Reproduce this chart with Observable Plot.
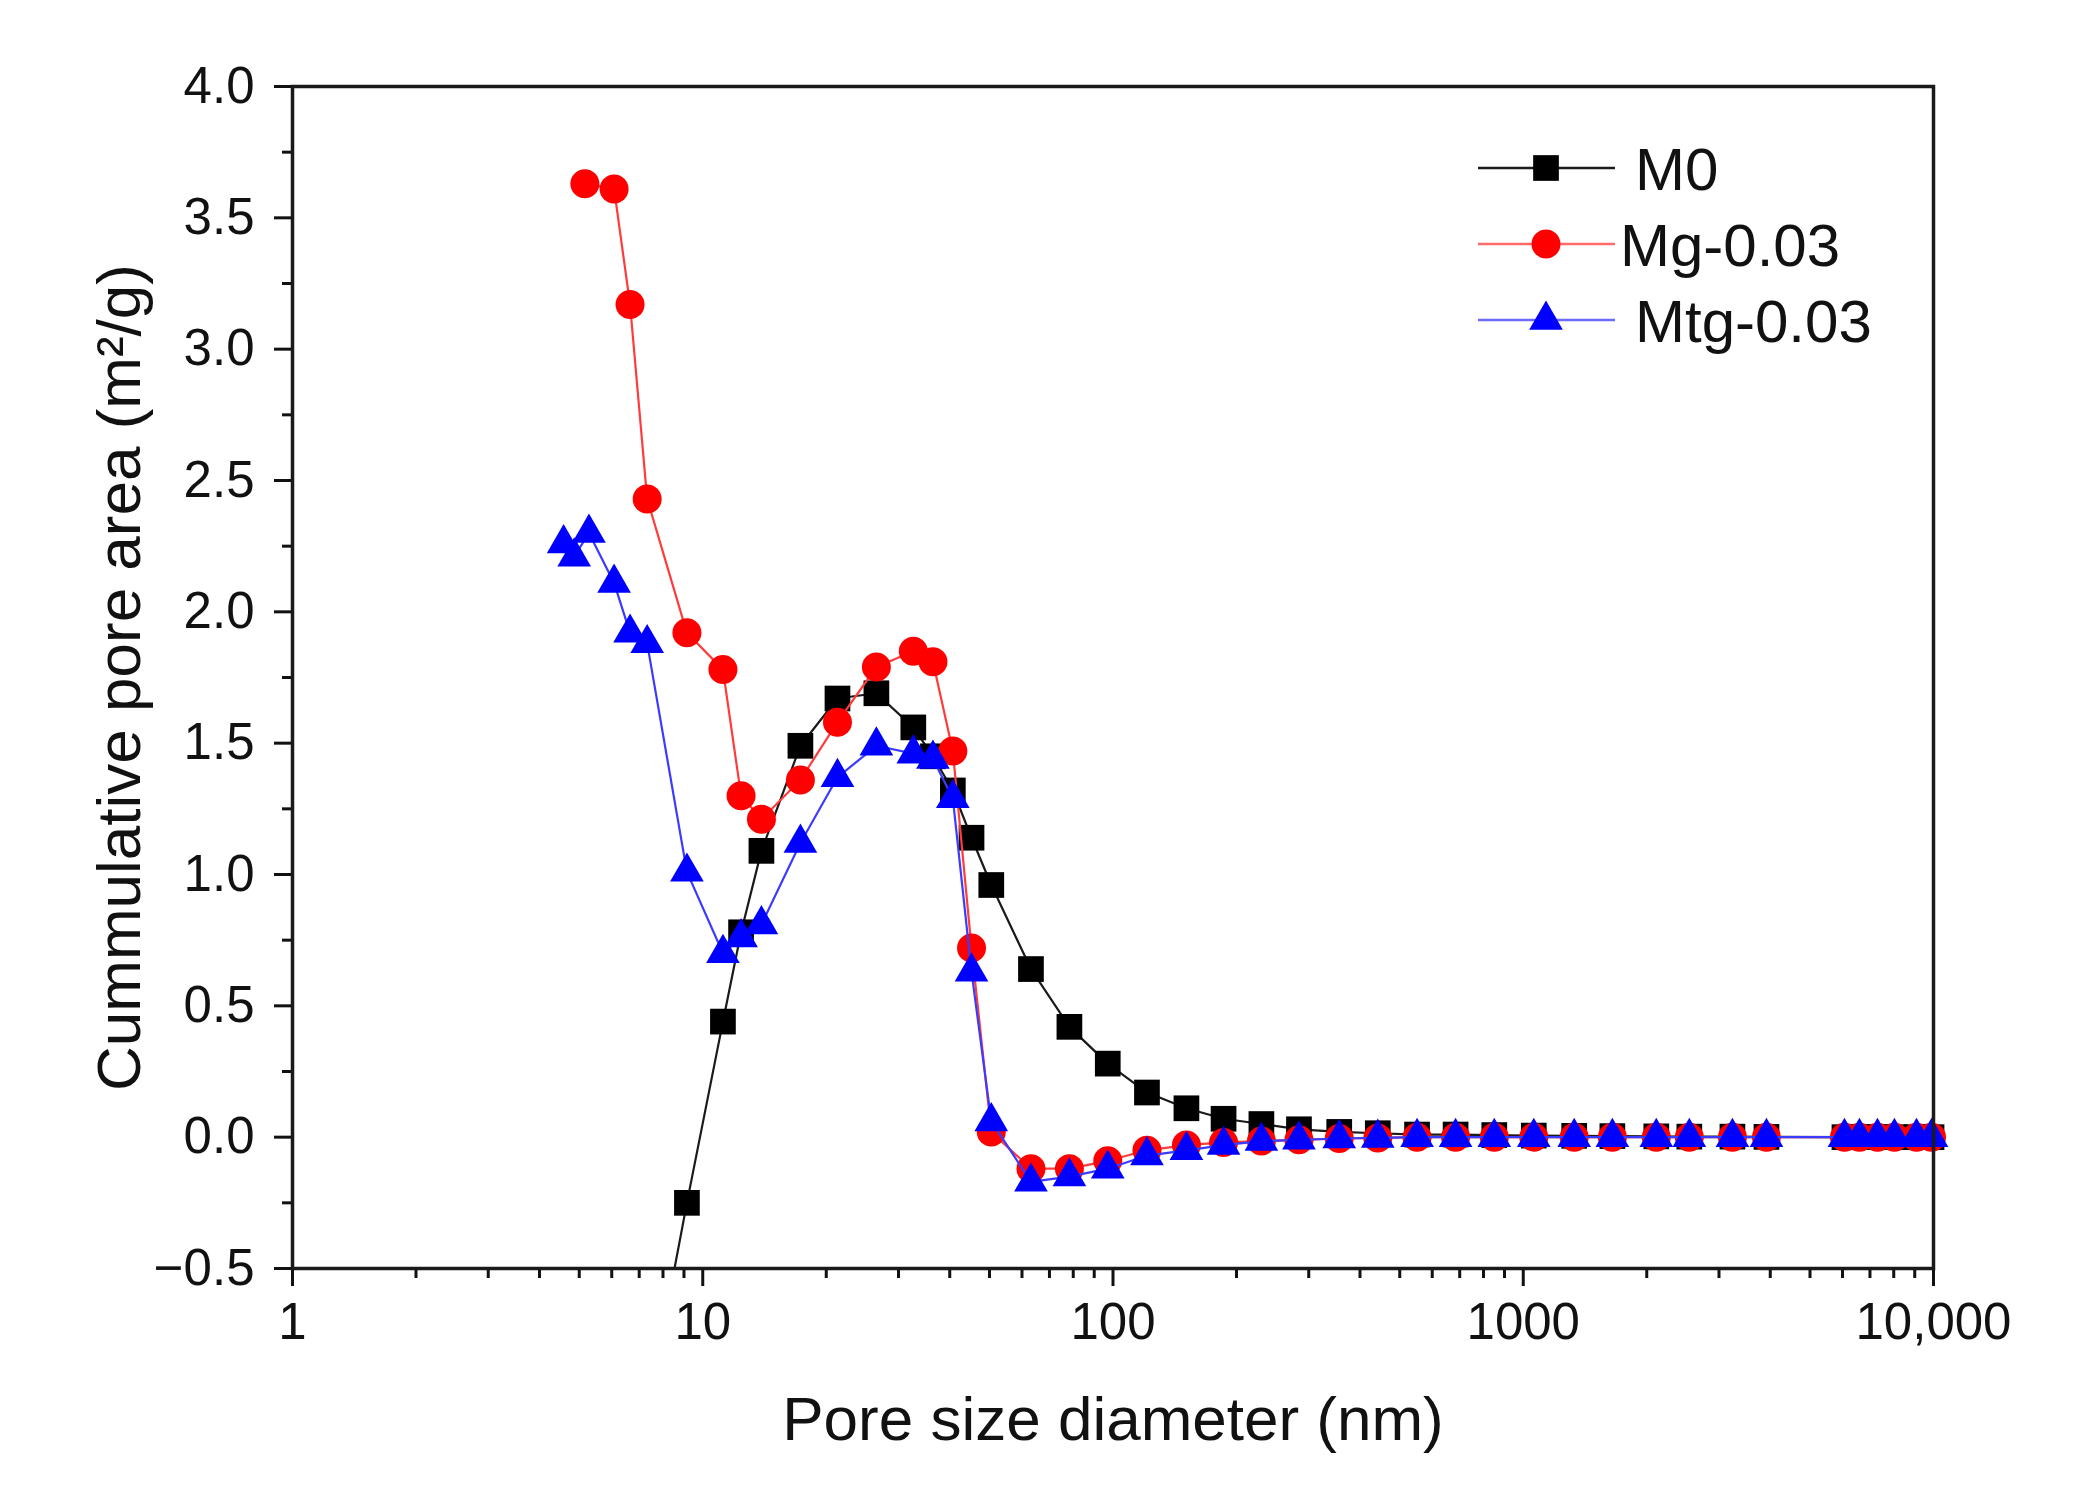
<!DOCTYPE html>
<html>
<head>
<meta charset="utf-8">
<script src="https://cdn.jsdelivr.net/npm/d3@7"></script>
<script src="https://cdn.jsdelivr.net/npm/@observablehq/plot@0.6"></script>
<style>
  html, body { margin: 0; padding: 0; background: #fff; }
  #wrap { position: relative; width: 2075px; height: 1498px; }
  #legend { position: absolute; left: 0; top: 0; pointer-events: none; }
</style>
</head>
<body>
<div id="wrap"></div>
<script>
// ---- data ----
const seriesNames = ["M0", "Mg-0.03", "Mtg-0.03"];

const xTail = [9.15, 11.2, 12.4, 13.9, 17.3, 21.3, 26.5, 32.6, 36.4, 40.7,
  45.2, 50.5, 63.1, 78.3, 97.1, 121, 151, 186, 230, 284,
  356, 442, 551, 684, 850, 1061, 1331, 1649, 2110, 2540,
  3235, 3916, 6067, 6600, 7300, 8030, 9090, 9890];

const xM0 = [7.32, ...xTail];
const yM0 = [-1.05, -0.25, 0.44, 0.78, 1.09, 1.49, 1.67, 1.69, 1.56, 1.45, 1.32,
  1.14, 0.96, 0.64, 0.42, 0.28, 0.17, 0.11, 0.07, 0.05, 0.03,
  0.02, 0.015, 0.01, 0.01, 0.008, 0.006, 0.005, 0.004, 0.003, 0.002,
  0.002, 0.001, 0, 0, 0, 0, 0, 0];

const xMg = [5.16, 6.08, 6.65, 7.32, ...xTail];
const yMg = [3.63, 3.61, 3.17, 2.43,
  1.92, 1.78, 1.30, 1.21, 1.36, 1.58, 1.79, 1.85, 1.81, 1.47,
  0.72, 0.02, -0.12, -0.12, -0.09, -0.05, -0.03, -0.02, -0.015, -0.01,
  -0.005, -0.003, 0, 0, 0, 0, 0, 0,
  0, 0, 0, 0, 0, 0, 0, 0, 0, 0];

const xMtg = [4.58, 4.86, 5.28, 6.08, 6.65, 7.32, ...xTail];
const yMtg = [2.26, 2.21, 2.30, 2.11, 1.92, 1.88,
  1.01, 0.70, 0.76, 0.81, 1.12, 1.37, 1.49, 1.46, 1.44, 1.29,
  0.63, 0.06, -0.17, -0.15, -0.12, -0.07, -0.05, -0.03, -0.015, -0.01,
  -0.005, -0.003, 0, 0, 0, 0, 0, 0,
  0, 0, 0, 0, 0, 0, 0, 0, 0, 0];

const xMajorTicks = [1, 10, 100, 1000, 10000];
const xMajorLabels = ["1", "10", "100", "1000", "10,000"];
const xMinorTicks = [2,3,4,5,6,7,8,9,20,30,40,50,60,70,80,90,200,300,400,500,600,700,800,900,2000,3000,4000,5000,6000,7000,8000,9000];
const yMajorTicks = [-0.5, 0, 0.5, 1.0, 1.5, 2.0, 2.5, 3.0, 3.5, 4.0];
const yMinorTicks = [-0.25, 0.25, 0.75, 1.25, 1.75, 2.25, 2.75, 3.25, 3.75];

const xTitle = "Pore size diameter (nm)";
const yTitle = "Cummulative pore area (m²/g)";

// ---- build tables ----
const toRows = (xs, ys, name) => xs.map((x, i) => ({x, y: ys[i], series: name}));
const rowsM0 = toRows(xM0, yM0, seriesNames[0]);
const rowsMg = toRows(xMg, yMg, seriesNames[1]);
const rowsMtg = toRows(xMtg, yMtg, seriesNames[2]);
const inFrame = d => d.y >= -0.5 && d.y <= 4.0;

const font = "'Liberation Sans', Arial, Helvetica, sans-serif";
const fmtY = d => d < 0 ? "\u2212" + Math.abs(d).toFixed(1) : d.toFixed(1);
const fmtX = d => xMajorLabels[xMajorTicks.indexOf(d)];

const chart = Plot.plot({
  width: 2075,
  height: 1498,
  marginLeft: 292,
  marginRight: 142,
  marginTop: 86,
  marginBottom: 230,
  style: {fontFamily: font, background: "#fff", color: "#111"},
  x: {type: "log", domain: [1, 10000]},
  y: {domain: [-0.5, 4.0]},
  marks: [
    Plot.axisX({ticks: xMajorTicks, tickFormat: fmtX, tickSize: 18, tickPadding: 16, fontSize: 51, strokeWidth: 3, label: null}),
    Plot.axisX({ticks: xMinorTicks, tickSize: 10, strokeWidth: 3, tickFormat: () => "", label: null}),
    Plot.axisY({ticks: yMajorTicks, tickFormat: fmtY, tickSize: 18, tickPadding: 20, fontSize: 51, strokeWidth: 3, label: null}),
    Plot.axisY({ticks: yMinorTicks, tickSize: 10, strokeWidth: 3, tickFormat: () => "", label: null}),
    Plot.text([xTitle], {frameAnchor: "bottom", dy: 152, fontSize: 62, textAnchor: "middle", lineAnchor: "middle", fill: "#111"}),
    Plot.text([yTitle], {frameAnchor: "left", dx: -172, rotate: -90, fontSize: 62, textAnchor: "middle", lineAnchor: "middle", fill: "#111"}),
    // M0
    Plot.line(rowsM0, {x: "x", y: "y", stroke: "#1a1a1a", strokeWidth: 2.2, clip: true}),
    Plot.dot(rowsM0.filter(inFrame), {x: "x", y: "y", symbol: "square", r: 14.5, fill: "#000", stroke: "none"}),
    // Mg-0.03
    Plot.line(rowsMg, {x: "x", y: "y", stroke: "#ff3b3b", strokeWidth: 2.2, clip: true}),
    Plot.dot(rowsMg, {x: "x", y: "y", symbol: "circle", r: 14.5, fill: "#ff0000", stroke: "none"}),
    // Mtg-0.03
    Plot.line(rowsMtg, {x: "x", y: "y", stroke: "#3b3bff", strokeWidth: 2.2, clip: true}),
    Plot.dot(rowsMtg, {x: "x", y: "y", symbol: "triangle", r: 12.5, fill: "#0000ff", stroke: "none"}),
    Plot.frame({stroke: "#1a1a1a", strokeWidth: 3.5})
  ]
});

const wrap = document.getElementById("wrap");
wrap.appendChild(chart);

// ---- legend (overlay inside the plot area, top right) ----
const legendItems = [
  {name: seriesNames[0], line: "#1a1a1a", fill: "#000", sym: d3.symbolSquare, r: 14.5, tx: 1635},
  {name: seriesNames[1], line: "#ff6b6b", fill: "#ff0000", sym: d3.symbolCircle, r: 14.5, tx: 1620},
  {name: seriesNames[2], line: "#6b6bff", fill: "#0000ff", sym: d3.symbolTriangle, r: 12.5, tx: 1635}
];
const lg = d3.select(wrap).append("svg")
  .attr("id", "legend").attr("width", 2075).attr("height", 1498);
legendItems.forEach((it, i) => {
  const cy = 168 + i * 76;
  const g = lg.append("g");
  g.append("line").attr("x1", 1478).attr("x2", 1615).attr("y1", cy).attr("y2", cy)
    .attr("stroke", it.line).attr("stroke-width", 2.5);
  g.append("path").attr("d", d3.symbol(it.sym, Math.PI * it.r * it.r)())
    .attr("transform", `translate(1546,${cy})`).attr("fill", it.fill);
  g.append("text").attr("x", it.tx).attr("y", cy).attr("dy", "0.36em")
    .attr("font-family", font).attr("font-size", 60).attr("fill", "#111").text(it.name);
});
</script>
</body>
</html>
